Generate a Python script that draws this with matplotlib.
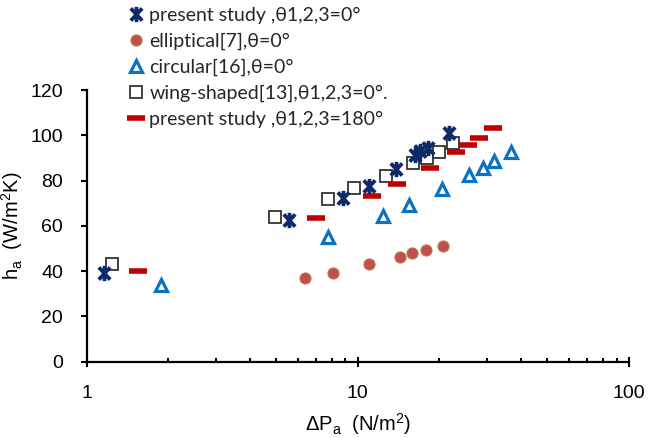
import numpy as np
import matplotlib.pyplot as plt
from matplotlib.path import Path

plt.rcParams.update({
    'font.family': ['Liberation Sans', 'DejaVu Sans'],
    'mathtext.default': 'regular',
})

# heat transfer coefficient vs pressure drop
star0_dp = [1.16, 5.59, 8.82, 10.95, 13.85, 16.3, 17.0, 18.2, 21.6]
star0_h = [39.2, 62.6, 72.2, 77.6, 85.0, 91.3, 93.2, 94.2, 100.9]

ellip_dp = [6.38, 8.12, 11.0, 14.3, 15.9, 17.8, 20.6]
ellip_h = [36.8, 39.3, 43.2, 46.4, 47.9, 49.3, 51.1]

circ_dp = [1.88, 7.79, 12.36, 15.48, 20.4, 25.8, 28.9, 31.9, 36.6]
circ_h = [33.9, 55.2, 64.4, 69.2, 76.3, 82.5, 85.4, 88.8, 92.8]

wing_dp = [1.24, 4.95, 7.77, 9.71, 12.71, 15.93, 17.96, 19.87, 22.5]
wing_h = [43.2, 63.8, 71.7, 76.9, 82.2, 87.9, 90.1, 92.8, 96.5]

star180_dp = [1.54, 7.02, 11.27, 14.0, 18.5, 23.0, 25.4, 27.9, 31.5]
star180_h = [40.1, 63.3, 73.3, 78.5, 85.7, 92.5, 95.7, 98.7, 103.1]

labels = ['present study ,\u03b81,2,3=0\u00b0',
          'elliptical[7],\u03b8=0\u00b0',
          'circular[16],\u03b8=0\u00b0',
          'wing-shaped[13],\u03b81,2,3=0\u00b0.',
          'present study ,\u03b81,2,3=180\u00b0']

# excel-style star: an X with a vertical bar through it
starPath = Path([(0, -1), (0, 1), (-0.75, -0.8), (0.75, 0.8), (-0.75, 0.8), (0.75, -0.8)],
                [Path.MOVETO, Path.LINETO, Path.MOVETO, Path.LINETO, Path.MOVETO, Path.LINETO])

fig = plt.figure(figsize=(6.56, 4.38), dpi=100)
ax = fig.add_axes([0.1322, 0.1742, 0.8266, 0.6203])

ax.plot(star0_dp, star0_h, ls='none', marker=starPath, ms=11, mew=2.7,
        mec='#0d2a68', mfc='none', label=labels[0], zorder=5)
ax.plot(ellip_dp, ellip_h, ls='none', marker='o', ms=8, mew=0.8,
        mfc='#c0504d', mec='#c07a45', label=labels[1])
ax.plot(circ_dp, circ_h, ls='none', marker='^', ms=8, mew=2.3,
        mfc='none', mec='#0a72c4', label=labels[2])
ax.plot(wing_dp, wing_h, ls='none', marker='s', ms=9, mew=1.3,
        mfc='none', mec='#333333', label=labels[3])
ax.plot(star180_dp, star180_h, ls='none', marker='_', ms=13, mew=4,
        mec='#c00000', label=labels[4])

ax.set_xscale('log')
ax.set_xlim(1, 100)
ax.set_ylim(0, 120)
ax.set_yticks(np.arange(0, 121, 20))
ax.set_xticks([1, 10, 100])
ax.set_xticklabels(['1', '10', '100'])
ax.xaxis.set_minor_formatter(plt.NullFormatter())

for side in ['top', 'right']:
    ax.spines[side].set_visible(False)
for side in ['left', 'bottom']:
    ax.spines[side].set_linewidth(1.6)

for lab in ax.get_xticklabels() + ax.get_yticklabels():
    lab.set_fontfamily(['Liberation Sans Narrow', 'Liberation Sans'])
    lab.set_fontsize(14)

ax.tick_params(axis='y', direction='out', length=4, width=1.5, pad=13)
ax.tick_params(axis='x', which='major', direction='inout', length=7, width=1.5, pad=13)
ax.tick_params(axis='x', which='minor', direction='in', length=3, width=1.5)

ax.set_xlabel(r'$\Delta$P$_{a}$  (N/m$^{2}$)', fontsize=14.5, labelpad=7)
ax.set_ylabel(r'h$_{a}$  (W/m$^{2}$K)', fontsize=14.5, labelpad=4)

leg = ax.legend(loc='upper left', bbox_to_anchor=(127 / 656, 1 - 7 / 438),
                bbox_transform=fig.transFigure, frameon=False,
                prop={'family': 'Lato', 'size': 14}, handlelength=0.9,
                handletextpad=0.25, labelspacing=0.45, borderpad=0, borderaxespad=0)
for txt in leg.get_texts():
    txt.set_color('#262626')

fig.savefig('out.png', dpi=100)
plt.close()
